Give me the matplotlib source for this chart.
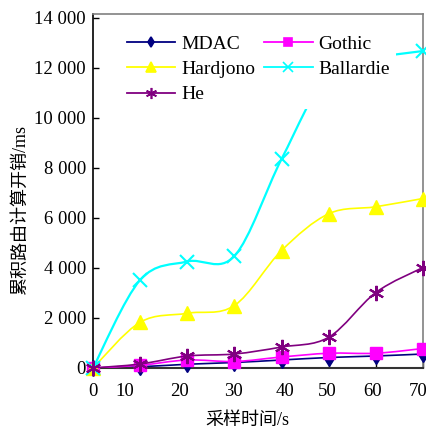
import numpy as np
import matplotlib
matplotlib.use("Agg")
import matplotlib.pyplot as plt
from matplotlib.path import Path
from matplotlib.patches import PathPatch
from matplotlib.lines import Line2D
from matplotlib.ticker import FixedLocator, FixedFormatter, NullFormatter

# sampling time (s)
t = [0, 10, 20, 30, 40, 50, 60, 70]

# cumulative routing computation cost (ms)
mdac = [0, 50, 150, 220, 320, 420, 480, 560]
gothic = [0, 110, 320, 260, 440, 590, 590, 780]
hardjono = [0, 1830, 2190, 2500, 4700, 6170, 6450, 6780]
ballardie = [0, 3520, 4260, 4480, 8360, 11800, 12400, 12680]
he = [0, 160, 480, 560, 840, 1230, 3020, 4020]

# tick label spots as printed in the source figure
xtick_labels = ["0", "10", "20", "30", "40", "50", "60", "70"]
xtick_label_pos = [0, 6.8, 18.3, 29.7, 40.7, 49.6, 59.4, 69.0]
yticks = [0, 2000, 4000, 6000, 8000, 10000, 12000, 14000]

series = [
    ("MDAC", mdac, "#000080", "d", 8),
    ("Gothic", gothic, "#ff00ff", "s", 9),
    ("Hardjono", hardjono, "#ffff00", "^", 10),
    ("Ballardie", ballardie, "#00ffff", "x", 10),
    ("He", he, "#800080", (6, 2, 0), 11),
]

plt.rcParams["font.family"] = ["Liberation Serif", "Noto Sans CJK SC"]


def smooth_path(x, y):
    # Catmull-Rom style bezier through the points
    p = np.column_stack([x, y]).astype(float)
    n = len(p)
    verts = [p[0]]
    codes = [Path.MOVETO]
    for i in range(n - 1):
        p0 = p[i - 1] if i > 0 else p[i]
        p1 = p[i]
        p2 = p[i + 1]
        p3 = p[i + 2] if i + 2 < n else p[i + 1]
        c1 = p1 + (p2 - p0) / 6.0
        c2 = p2 - (p3 - p1) / 6.0
        verts += [c1, c2, p2]
        codes += [Path.CURVE4] * 3
    return Path(verts, codes)


fig = plt.figure(figsize=(4.27, 4.30), dpi=100)
ax = fig.add_axes([93 / 427, 62 / 430, 330 / 427, 354 / 430])

handles = []
for i, (name, vals, col, mk, ms) in enumerate(series):
    lw = 1.6 if name == "Ballardie" else 1.2
    ax.add_patch(PathPatch(smooth_path(t, vals), fill=False, edgecolor=col,
                           lw=lw, zorder=2 + i))
    mew = 1.5 if mk == "x" or isinstance(mk, tuple) else 1
    ax.plot(t, vals, linestyle="none", marker=mk, ms=ms, color=col,
            mec=col, mew=mew, clip_on=False, zorder=3 + i)
    handles.append(Line2D([], [], color=col, lw=1.3, marker=mk, ms=ms - 3,
                          mew=1.2, label=name))

ax.set_xlim(0, 70)
ax.set_ylim(0, 14160)

ax.xaxis.remove_overlapping_locs = False
ax.xaxis.set_major_locator(FixedLocator(t))
ax.xaxis.set_major_formatter(NullFormatter())
ax.xaxis.set_minor_locator(FixedLocator(xtick_label_pos))
ax.xaxis.set_minor_formatter(FixedFormatter(xtick_labels))
ax.tick_params(axis="x", which="major", direction="in", length=5, width=1)
ax.tick_params(axis="x", which="minor", length=0, pad=11, labelsize=13.5)

ax.set_yticks(yticks)
ax.set_yticklabels([f"{v:,}".replace(",", " ") for v in yticks])
ax.tick_params(axis="y", direction="in", length=4, width=1, pad=5,
               labelsize=13.5)

for s in ("top", "right"):
    ax.spines[s].set_color("#808080")
    ax.spines[s].set_linewidth(1.2)
ax.spines["left"].set_color("black")
ax.spines["bottom"].set_color("#333333")
ax.spines["left"].set_linewidth(1.2)
ax.spines["bottom"].set_linewidth(1.5)

ax.set_xlabel("采样时间/s", fontsize=13, labelpad=5)
ax.xaxis.set_label_coords(0.467, -0.125)
ax.set_ylabel("累积路由计算开销/ms", fontsize=13)
ax.yaxis.set_label_coords(-0.194, 0.446)

order = [0, 2, 4, 1, 3]
leg = ax.legend([handles[k] for k in order],
                [handles[k].get_label() for k in order],
                ncol=2, loc="upper left", bbox_to_anchor=(0.085, 0.957),
                fontsize=14, frameon=True, facecolor="white",
                edgecolor="none", framealpha=1, fancybox=False,
                handlelength=2.5, handletextpad=0.3, columnspacing=0.45,
                labelspacing=0.4, borderpad=0.3, borderaxespad=0)
leg.set_zorder(20)

fig.savefig("out.png", dpi=100)
